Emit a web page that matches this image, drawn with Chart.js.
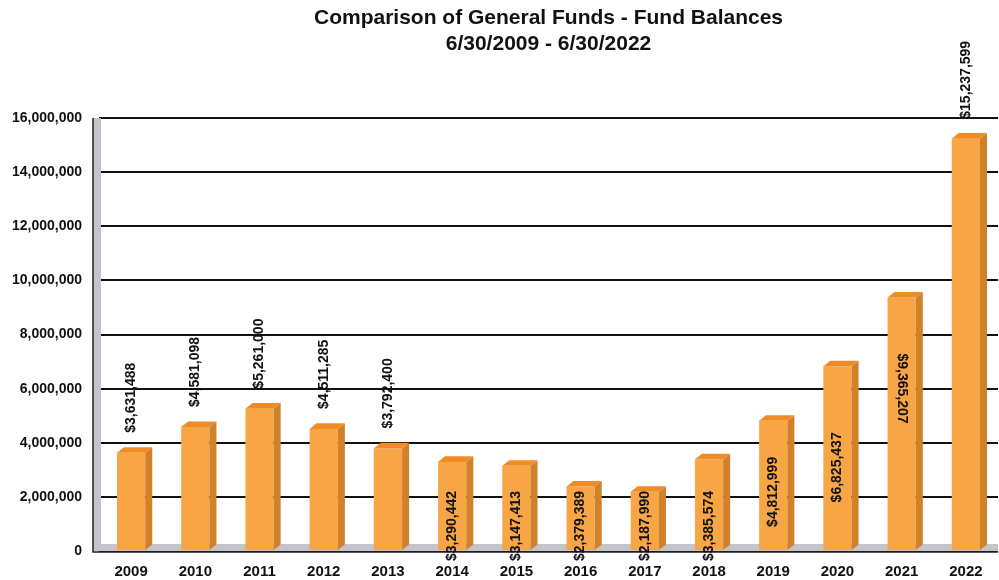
<!DOCTYPE html>
<html>
<head>
<meta charset="utf-8">
<script src="https://cdn.jsdelivr.net/npm/chart.js@4"></script>
<style>
  html, body { margin: 0; padding: 0; background: #fff; }
  #wrap { width: 999px; height: 580px; }
</style>
</head>
<body>
<div id="wrap"><canvas id="myChart"></canvas></div>
<script>
(() => {
  'use strict'

  const years = ['2009', '2010', '2011', '2012', '2013', '2014', '2015',
    '2016', '2017', '2018', '2019', '2020', '2021', '2022']
  const balances = [3631488, 4581098, 5261000, 4511285, 3792400, 3290442, 3147413,
    2379389, 2187990, 3385574, 4812999, 6825437, 9365207, 15237599]
  const yTicks = [0, 2000000, 4000000, 6000000, 8000000, 10000000, 12000000, 14000000, 16000000]
  const titleLines = ['Comparison of General Funds - Fund Balances', '6/30/2009 - 6/30/2022']

  const FONT = '"Liberation Sans", Arial, sans-serif'
  const DEPTH = 7

  // grey 3D wall on the left and floor along the bottom
  const walls = {
    id: 'walls',
    beforeDatasetsDraw (chart) {
      const { ctx, chartArea: a } = chart
      ctx.save()
      ctx.fillStyle = '#c4c4cc'
      ctx.fillRect(a.left - 6, a.top, 8, a.bottom - a.top)
      ctx.fillRect(a.left - 6, a.bottom - 7, a.right - a.left + 6, 7)
      ctx.strokeStyle = '#222'
      ctx.lineWidth = 1.5
      ctx.beginPath()
      ctx.moveTo(a.left - 6, a.top)
      ctx.lineTo(a.left - 6, a.bottom + 1)
      ctx.lineTo(a.right, a.bottom + 1)
      ctx.stroke()
      ctx.restore()
    }
  }

  // side and top faces of each bar
  const bars3d = {
    id: 'bars3d',
    afterDatasetsDraw (chart) {
      const { ctx } = chart
      const meta = chart.getDatasetMeta(0)
      ctx.save()
      meta.data.forEach(bar => {
        const l = bar.x - bar.width / 2
        const r = bar.x + bar.width / 2
        const t = bar.y
        const b = bar.base
        ctx.fillStyle = '#d0812a'
        ctx.beginPath()
        ctx.moveTo(r, t)
        ctx.lineTo(r + DEPTH, t - DEPTH * 0.8)
        ctx.lineTo(r + DEPTH, b - DEPTH * 0.8)
        ctx.lineTo(r, b)
        ctx.closePath()
        ctx.fill()
        ctx.fillStyle = '#f08c28'
        ctx.beginPath()
        ctx.moveTo(l, t)
        ctx.lineTo(l + DEPTH, t - DEPTH * 0.8)
        ctx.lineTo(r + DEPTH, t - DEPTH * 0.8)
        ctx.lineTo(r, t)
        ctx.closePath()
        ctx.fill()
      })
      ctx.restore()
    }
  }

  // rotated value labels
  const valueLabels = {
    id: 'valueLabels',
    afterDatasetsDraw (chart) {
      const { ctx } = chart
      const meta = chart.getDatasetMeta(0)
      ctx.save()
      ctx.font = 'bold 14px ' + FONT
      ctx.fillStyle = '#111'
      ctx.textBaseline = 'middle'
      meta.data.forEach((bar, i) => {
        const text = '$' + balances[i].toLocaleString('en-US')
        ctx.save()
        if (i <= 4 || i === balances.length - 1) {
          ctx.translate(bar.x, bar.y - 20)
          ctx.rotate(-Math.PI / 2)
          ctx.textAlign = 'left'
        } else if (i <= 9) {
          ctx.translate(bar.x, bar.base - 24)
          ctx.rotate(-Math.PI / 2)
          ctx.textAlign = 'center'
        } else if (i === 12) {
          ctx.translate(bar.x, bar.y + (bar.base - bar.y) * 0.36)
          ctx.rotate(Math.PI / 2)
          ctx.textAlign = 'center'
        } else {
          ctx.translate(bar.x, bar.y + (bar.base - bar.y) * 0.55)
          ctx.rotate(-Math.PI / 2)
          ctx.textAlign = 'center'
        }
        ctx.fillText(text, 0, 0)
        ctx.restore()
      })
      ctx.restore()
    }
  }

  const ctx = document.getElementById('myChart')
  // eslint-disable-next-line no-unused-vars
  const myChart = new Chart(ctx, {
    type: 'bar',
    data: {
      labels: years,
      datasets: [{
        data: balances,
        backgroundColor: '#f7a545',
        borderWidth: 0,
        categoryPercentage: 1,
        barPercentage: 0.44
      }]
    },
    options: {
      responsive: true,
      maintainAspectRatio: false,
      animation: false,
      layout: { padding: { left: 0, right: 1, top: 0, bottom: 0 } },
      plugins: {
        legend: { display: false },
        tooltip: { enabled: false },
        title: {
          display: true,
          text: titleLines,
          fullSize: false,
          color: '#111',
          font: { family: FONT, size: 21, weight: 'bold', lineHeight: 1.24 },
          padding: { top: 5, bottom: 61 }
        }
      },
      scales: {
        x: {
          afterFit (scale) {
            scale.height = 29
          },
          grid: { display: false, drawTicks: false },
          border: { display: false },
          ticks: {
            color: '#111',
            padding: 12,
            maxRotation: 0,
            font: { family: FONT, size: 15, weight: 'bold' }
          }
        },
        y: {
          min: 0,
          max: 16000000,
          afterBuildTicks (scale) {
            scale.ticks = yTicks.map(v => ({ value: v }))
          },
          afterFit (scale) {
            scale.width = 99
          },
          grid: { color: '#111', lineWidth: 2, drawTicks: false },
          border: { display: false },
          ticks: {
            color: '#111',
            padding: 17,
            font: { family: FONT, size: 14, weight: 'bold' },
            callback: v => v.toLocaleString('en-US')
          }
        }
      }
    },
    plugins: [walls, bars3d, valueLabels]
  })
})()
</script>
</body>
</html>
